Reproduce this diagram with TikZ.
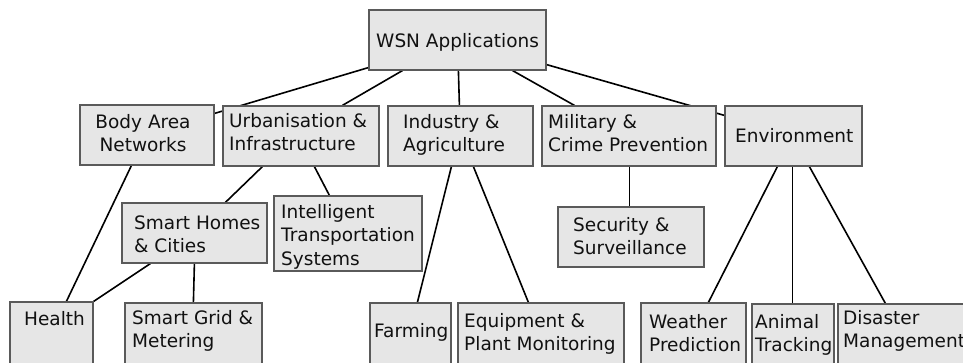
\documentclass[tikz,border=0pt]{standalone}
\usepackage{fontspec}
\setmainfont{DejaVu Sans}
\usetikzlibrary{backgrounds}
\definecolor{boxfill}{HTML}{E6E6E6}
\definecolor{boxline}{HTML}{5A5A5A}
\definecolor{txtcol}{HTML}{111111}
\tikzset{
  box/.style={draw=boxline, fill=boxfill, line width=1.2pt, inner sep=0pt, rectangle},
  txt/.style={anchor=north west, inner sep=0pt, align=left, text=txtcol,
    font=\fontsize{18.5}{23.5}\selectfont},
  txtc/.style={txt, anchor=north, align=center},
  conn/.style={draw=black, line width=1.6pt}
}
\newcommand{\bx}[5]{\node[box, minimum width={#4-#2}, minimum height={#5-#3}] (#1) at ({(#2+#4)/2},{(#3+#5)/2}) {};}
\begin{document}
\begin{tikzpicture}[x=1pt,y=-1pt]
\useasboundingbox (0,0) rectangle (963,363);
\begin{scope}
\clip (0,0) rectangle (963,363);
\bx{wsn}{369}{10}{546}{70}
\bx{body}{80}{105}{214}{165}
\bx{urb}{223}{106}{379}{166}
\bx{ind}{388}{106}{533}{166}
\bx{mil}{542}{106}{716}{166}
\bx{env}{725}{106}{862}{166}
\bx{smh}{122}{203}{267}{263}
\bx{its}{274}{196}{422}{271}
\bx{sec}{558}{207}{704}{267}
\bx{health}{10}{302}{93}{372}
\bx{grid}{125}{303}{262}{372}
\bx{farm}{370}{303}{451}{372}
\bx{equip}{458}{303}{624}{372}
\bx{wea}{641}{303}{746}{372}
\bx{ani}{752}{304}{834}{372}
\bx{dis}{838}{304}{975}{372}

\node[txt] (t-wsn) at (376,30.5) {\strut WSN Applications};
\node[txtc] (t-body) at (143,111.5) {\strut Body Area\\Networks};
\node[txt] (t-urb) at (229,110.5) {\strut Urbanisation \&\\Infrastructure};
\node[txt] (t-ind) at (403,111.5) {\strut Industry \&\\Agriculture};
\node[txt] (t-mil) at (548,111.5) {\strut Military \&\\Crime Prevention};
\node[txt] (t-env) at (735,125.5) {\strut Environment};
\node[txt] (t-smh) at (134,212.5) {\strut Smart Homes\\\& Cities};
\node[txt] (t-its) at (281,201.5) {\strut Intelligent\\Transportation\\Systems};
\node[txt] (t-sec) at (573,214.5) {\strut Security \&\\Surveillance};
\node[txt] (t-health) at (24,308.5) {\strut Health};
\node[txt] (t-grid) at (132,307.5) {\strut Smart Grid \&\\Metering};
\node[txt] (t-farm) at (374,320.5) {\strut Farming};
\node[txt] (t-equip) at (464,310.5) {\strut Equipment \&\\Plant Monitoring};
\node[txt] (t-wea) at (649,311.5) {\strut Weather\\Prediction};
\node[txt] (t-ani) at (755,311.5) {\strut Animal\\Tracking};
\node[txt] (t-dis) at (843,307.5) {\strut Disaster\\Management};
\end{scope}

\begin{pgfonlayer}{background}
\fill[white] (0,0) rectangle (963,363);
\draw[conn] ([yshift=3pt]wsn.south west) -- ([yshift=-9pt]body.north east);
\draw[conn] ([xshift=34pt]wsn.south west) -- ([xshift=120pt]urb.north west);
\draw[conn] ([xshift=90pt]wsn.south west) -- ([xshift=72pt]ind.north west);
\draw[conn] ([xshift=-34pt]wsn.south east) -- ([xshift=33pt]mil.north west);
\draw[conn] ([yshift=6pt]wsn.south east) -- ([yshift=-10pt]env.north west);
\draw[conn] ([xshift=52pt]body.south west) -- ([xshift=57pt]health.north west);
\draw[conn] ([xshift=40pt]urb.south west) -- ([xshift=104pt]smh.north west);
\draw[conn] ([xshift=92pt]urb.south west) -- ([xshift=56pt]its.north west);
\draw[conn] ([xshift=29pt]smh.south west) -- (health.north east);
\draw[conn] ([xshift=73pt]smh.south west) -- ([xshift=69pt]grid.north west);
\draw[conn] ([xshift=64pt]ind.south west) -- ([xshift=48pt]farm.north west);
\draw[conn] ([xshift=86pt]ind.south west) -- ([xshift=71pt]equip.north west);
\draw[conn] ([xshift=88pt]mil.south west) -- ([xshift=72pt]sec.north west);
\draw[conn] ([xshift=53pt]env.south west) -- ([xshift=68pt]wea.north west);
\draw[conn] ([xshift=68pt]env.south west) -- ([xshift=41pt]ani.north west);
\draw[conn] ([xshift=85pt]env.south west) -- ([xshift=48pt]dis.north west);
\end{pgfonlayer}
\end{tikzpicture}
\end{document}
